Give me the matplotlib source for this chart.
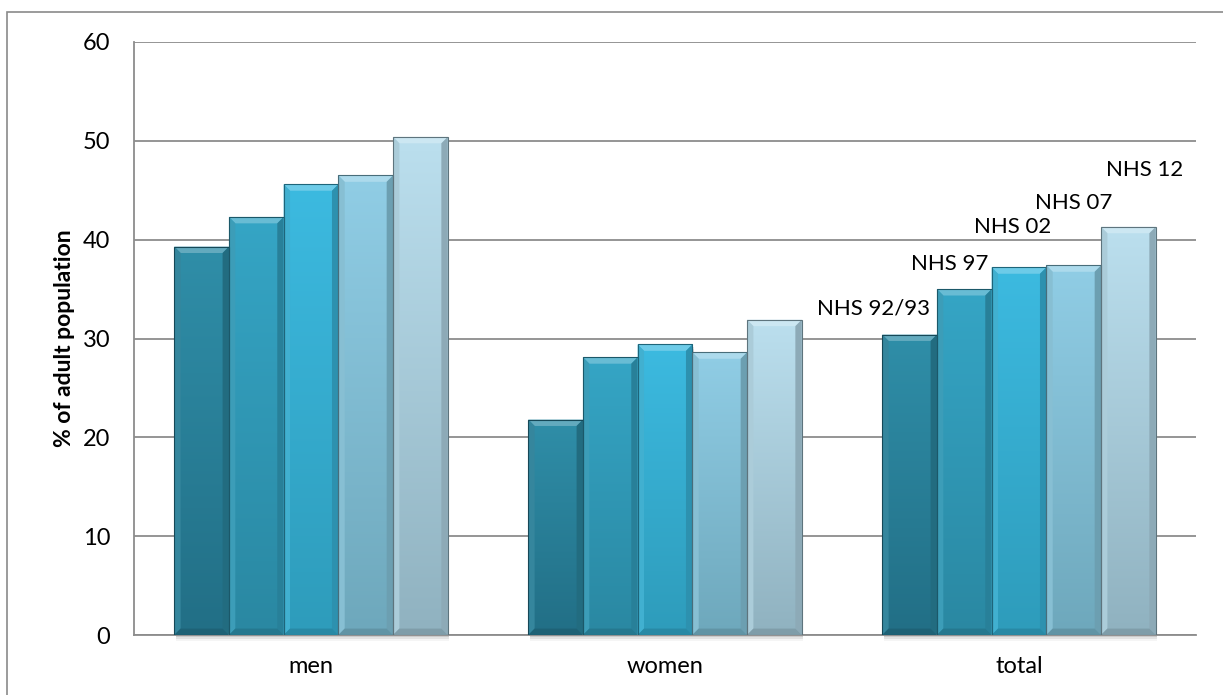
import numpy as np
import matplotlib.pyplot as plt
from matplotlib.patches import Rectangle, Polygon
from matplotlib.colors import to_rgb

groups = ["men", "women", "total"]
surveys = ["NHS 92/93", "NHS 97", "NHS 02", "NHS 07", "NHS 12"]
nhs_92_93 = [39.3, 21.8, 30.4]
nhs_97 = [42.3, 28.1, 35.0]
nhs_02 = [45.6, 29.4, 37.2]
nhs_07 = [46.5, 28.6, 37.4]
nhs_12 = [50.4, 31.9, 41.3]
series = [nhs_92_93, nhs_97, nhs_02, nhs_07, nhs_12]

# (top colour, bottom colour) per survey
top_cols = ["#2f8ea8", "#35a5c5", "#3cbae0", "#90cde5", "#bbdfee"]
bot_cols = ["#226f86", "#2a88a2", "#2e9cbb", "#6ea8bc", "#90b2c0"]

# hand placed survey labels above the "total" bars (offset in pixels)
label_dx = [-36, -15, -6, 0, 16]
label_dy = [26, 25, 40, 62, 57]

plt.rcParams["font.family"] = ["Lato", "DejaVu Sans"]

fig = plt.figure(figsize=(12.23, 6.95), dpi=100)
fig.patches.append(Rectangle((7 / 1223, -0.05), 1.1, 1 - 12 / 695 + 0.05,
                             transform=fig.transFigure, fill=False,
                             edgecolor="#8a8a8a", lw=1.2))
ax = fig.add_axes([134 / 1223, 1 - 635 / 695, (1196 - 134) / 1223, (635 - 42) / 695])

x = np.arange(len(groups))
bw = 0.1545
ax.set_xlim(-0.5, 2.5)
ax.set_ylim(0, 60)


def lighten(c, f):
    r = np.array(to_rgb(c))
    return tuple(r + (1 - r) * f)


def darken(c, f):
    return tuple(np.array(to_rgb(c)) * (1 - f))


bx = 0.018   # bevel width in x units
by = 0.65    # bevel height in y units
for i, vals in enumerate(series):
    top = np.array(to_rgb(top_cols[i]))
    bot = np.array(to_rgb(bot_cols[i]))
    grad = np.linspace(bot, top, 64)[:, None, :]
    for j, v in enumerate(vals):
        x0 = x[j] - 2.5 * bw + i * bw
        x1 = x0 + bw
        # shadow below
        for k, a in enumerate([0.10, 0.07, 0.04]):
            ax.add_patch(Rectangle((x0 + 0.004, -0.25 - 0.2 * k), bw, v, color="black",
                                   alpha=a, lw=0, zorder=1, clip_on=False))
        rect = Rectangle((x0, 0), bw, v, facecolor="none", edgecolor="none", zorder=2)
        ax.add_patch(rect)
        im = ax.imshow(grad, extent=[x0, x1, 0, v], origin="lower", aspect="auto",
                       zorder=2, interpolation="bilinear")
        im.set_clip_path(rect)
        mid = tuple(top * 0.5 + bot * 0.5)
        ax.add_patch(Polygon([(x0, v), (x1, v), (x1 - bx, v - by), (x0 + bx, v - by)],
                             closed=True, facecolor=lighten(top_cols[i], 0.25), lw=0, zorder=3))
        ax.add_patch(Polygon([(x0, 0), (x0, v), (x0 + bx, v - by), (x0 + bx, by)],
                             closed=True, facecolor=lighten(mid, 0.06), lw=0, zorder=3))
        ax.add_patch(Polygon([(x1, 0), (x1, v), (x1 - bx, v - by), (x1 - bx, by)],
                             closed=True, facecolor=darken(mid, 0.15), lw=0, zorder=3))
        ax.add_patch(Polygon([(x0, 0), (x1, 0), (x1 - bx, by), (x0 + bx, by)],
                             closed=True, facecolor=darken(bot, 0.12), lw=0, zorder=3))
        ax.add_patch(Rectangle((x0, 0), bw, v, facecolor="none",
                               edgecolor=darken(bot, 0.35), lw=0.8, zorder=4))
        if groups[j] == "total":
            ax.annotate(surveys[i], (x0 + bw / 2, v), xytext=(label_dx[i], label_dy[i]),
                        textcoords="offset pixels", ha="center", va="center",
                        fontsize=16, color="black", zorder=5)

ax.set_yticks(range(0, 61, 10))
ax.yaxis.grid(True, color="#8c8c8c", lw=1.3)
ax.set_axisbelow(True)
ax.set_xticks(x)
ax.set_xticklabels(groups)
ax.tick_params(axis="both", length=0, labelsize=17)
ax.tick_params(axis="y", pad=17)
ax.tick_params(axis="x", pad=15)
for s in ["top", "right"]:
    ax.spines[s].set_visible(False)
ax.spines["left"].set_color("#8c8c8c")
ax.spines["bottom"].set_color("#8c8c8c")
ax.spines["left"].set_linewidth(1.3)
ax.spines["bottom"].set_linewidth(1.3)
ax.set_ylabel("% of adult population", fontsize=16.5, fontweight="bold")
ax.yaxis.set_label_coords((75 - 134) / (1196 - 134), (635 - 338) / (635 - 42))

fig.savefig("out.png", dpi=100)
